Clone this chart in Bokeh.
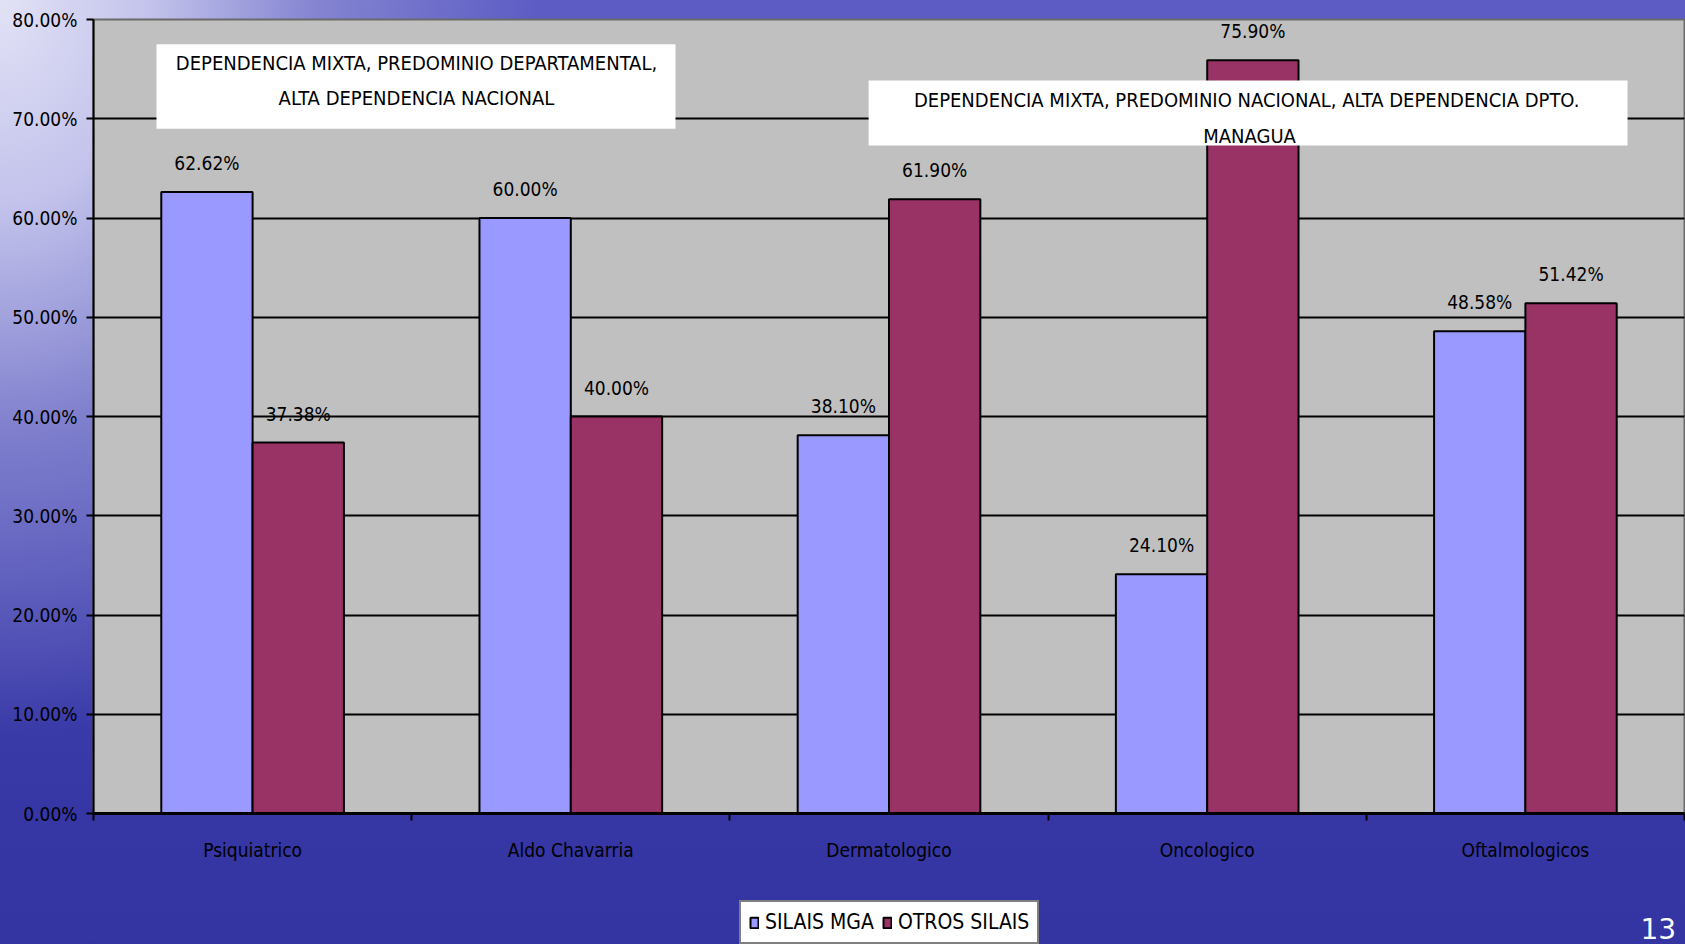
from bokeh.plotting import figure
from bokeh.layouts import column
from bokeh.models import (ColumnDataSource, FixedTicker, Legend, LegendItem,
                          BoxAnnotation, Label, Range1d)
from bokeh.embed import file_html
from bokeh.resources import INLINE

# ---------------- data ----------------
categories = ["Psiquiatrico", "Aldo Chavarria", "Dermatologico", "Oncologico", "Oftalmologicos"]
silais_mga = [62.62, 60.00, 38.10, 24.10, 48.58]
otros_silais = [37.38, 40.00, 61.90, 75.90, 51.42]
series_names = ["SILAIS MGA", "OTROS SILAIS"]
y_ticks = [0, 10, 20, 30, 40, 50, 60, 70, 80]
y_tick_labels = ["0.00%", "10.00%", "20.00%", "30.00%", "40.00%",
                 "50.00%", "60.00%", "70.00%", "80.00%"]
note_left = ["DEPENDENCIA MIXTA, PREDOMINIO DEPARTAMENTAL,", "ALTA DEPENDENCIA NACIONAL"]
note_right = ["DEPENDENCIA MIXTA, PREDOMINIO NACIONAL,  ALTA DEPENDENCIA DPTO.", "MANAGUA"]
page_number = "13"

FONT = "'DejaVu Sans Condensed', 'Liberation Sans Narrow', sans-serif"
C_MGA = "#9999ff"
C_OTROS = "#993366"

centers = list(range(len(categories)))
bw = 0.287
src_mga = ColumnDataSource(dict(
    x=[c - bw / 2 for c in centers], top=silais_mga,
    lbl=[f"{v:.2f}%" for v in silais_mga]))
src_otros = ColumnDataSource(dict(
    x=[c + bw / 2 for c in centers], top=otros_silais,
    lbl=[f"{v:.2f}%" for v in otros_silais]))

# ---------------- main chart ----------------
p = figure(width=1685, height=866, output_backend="svg", toolbar_location=None,
           x_range=Range1d(-0.5, len(categories) - 0.5), y_range=Range1d(0, 80),
           min_border_left=93, min_border_right=1, min_border_top=19,
           min_border_bottom=53)
p.border_fill_alpha = 0
p.background_fill_color = "#c0c0c0"
p.outline_line_color = "#6a6a6a"
p.outline_line_width = 2

r1 = p.vbar(x="x", top="top", width=bw, bottom=0, source=src_mga,
            fill_color=C_MGA, line_color="black", line_width=2)
r2 = p.vbar(x="x", top="top", width=bw, bottom=0, source=src_otros,
            fill_color=C_OTROS, line_color="black", line_width=2)

for src in (src_mga, src_otros):
    p.text(x="x", y="top", text="lbl", source=src, text_align="center",
           text_baseline="bottom", y_offset=-18, text_font_size="19px",
           text_font={"value": FONT}, text_color="black")

p.xgrid.grid_line_color = None
p.ygrid.grid_line_color = "black"
p.ygrid.grid_line_width = 2
p.ygrid.ticker = FixedTicker(ticks=y_ticks)

p.yaxis.ticker = FixedTicker(ticks=y_ticks)
p.yaxis.major_label_overrides = {t: l for t, l in zip(y_ticks, y_tick_labels)}
p.yaxis.major_label_text_font = FONT
p.yaxis.major_label_text_font_size = "19px"
p.yaxis.major_label_text_color = "black"
p.yaxis.major_label_standoff = 9
p.yaxis.major_tick_in = 0
p.yaxis.major_tick_out = 7
p.yaxis.major_tick_line_width = 2
p.yaxis.minor_tick_line_color = None
p.yaxis.axis_line_width = 2
p.yaxis.axis_line_color = "black"

p.xaxis.ticker = FixedTicker(ticks=centers,
                             minor_ticks=[c - 0.5 for c in centers] + [centers[-1] + 0.5])
p.xaxis.major_label_overrides = {c: n for c, n in zip(centers, categories)}
p.xaxis.major_label_text_font = FONT
p.xaxis.major_label_text_font_size = "19px"
p.xaxis.major_label_text_color = "black"
p.xaxis.major_label_standoff = 18
p.xaxis.major_tick_line_color = None
p.xaxis.minor_tick_in = 0
p.xaxis.minor_tick_out = 7
p.xaxis.minor_tick_line_width = 2
p.xaxis.minor_tick_line_color = "black"
p.xaxis.axis_line_width = 3
p.xaxis.axis_line_color = "black"

# annotation boxes
p.add_layout(BoxAnnotation(left=-0.302, right=1.329, top=77.5, bottom=69.0,
                           fill_color="white", fill_alpha=1, line_color=None))
p.add_layout(BoxAnnotation(left=1.936, right=4.321, top=73.85, bottom=67.3,
                           fill_color="white", fill_alpha=1, line_color=None))
for txt, yy in zip(note_left, [75.6, 72.05]):
    p.add_layout(Label(x=0.515, y=yy, text=txt, text_align="center",
                       text_baseline="middle", text_font=FONT,
                       text_font_size="20px", text_color="black"))
for txt, yy in zip(note_right, [71.85, 68.3]):
    p.add_layout(Label(x=3.133, y=yy, text=txt, text_align="center",
                       text_baseline="middle", text_font=FONT,
                       text_font_size="20px", text_color="black"))

# ---------------- bottom strip: legend + page number ----------------
# (its frame is aligned with the main chart's frame by the column layout)
p2 = figure(width=1685, height=78, output_backend="svg", toolbar_location=None,
            x_range=Range1d(93, 1684), y_range=Range1d(0, 78),
            x_axis_location=None, y_axis_location=None,
            min_border_left=93, min_border_right=1, min_border_top=0,
            min_border_bottom=0)
p2.border_fill_alpha = 0
p2.background_fill_alpha = 0
p2.outline_line_color = None
p2.grid.grid_line_color = None
d1 = p2.vbar(x=[-5000], top=[0], width=1, fill_color=C_MGA, line_color="black", line_width=2)
d2 = p2.vbar(x=[-5000], top=[0], width=1, fill_color=C_OTROS, line_color="black", line_width=2)

legend = Legend(items=[LegendItem(label=series_names[0], renderers=[d1]),
                       LegendItem(label=series_names[1], renderers=[d2])],
                location=(646, 0), orientation="horizontal",
                label_text_font=FONT, label_text_font_size="21px",
                label_text_color="black", glyph_width=10, glyph_height=13,
                label_standoff=6, spacing=8, padding=8, margin=0,
                border_line_color="black", border_line_width=2,
                background_fill_color="white", background_fill_alpha=1)
p2.add_layout(legend)

p2.add_layout(Label(x=1640, y=6, text=page_number, text_align="left",
                    text_baseline="bottom", text_font="'DejaVu Sans', sans-serif",
                    text_font_size="28px", text_color="white"))

layout = column(p, p2, spacing=0, styles={"background": (
    "radial-gradient(ellipse 32% 78% at 0% 0%, rgba(226,226,246,1) 0%, "
    "rgba(200,200,238,0.95) 28%, rgba(150,150,216,0.7) 58%, rgba(100,100,196,0) 100%), "
    "linear-gradient(180deg, #5c5cc4 0%, #5050ba 35%, #4040ae 65%, #3636a4 85%, #3434a2 100%)")})

open("out.html", "w").write(file_html(layout, INLINE))
